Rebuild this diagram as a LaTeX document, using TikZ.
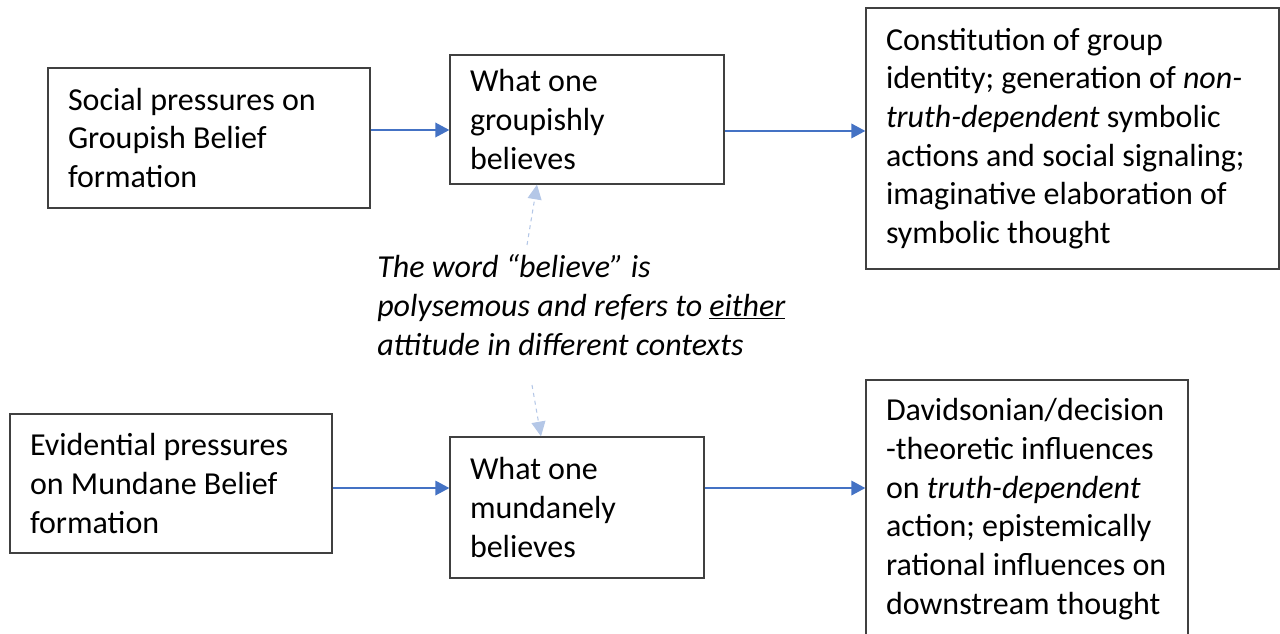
\documentclass[tikz,border=0pt]{standalone}
\usepackage{fontspec}
\setmainfont{Carlito}
\usetikzlibrary{arrows.meta}
\definecolor{flowblue}{HTML}{4472C4}
\definecolor{paleblue}{HTML}{B4C7E7}
\tikzset{
  box/.style={draw=black!75, line width=1pt, rectangle, inner xsep=15pt, inner ysep=2pt, align=flush left,
    font=\fontsize{24}{29}\selectfont},
  flow/.style={draw=flowblue, line width=1pt, -{Triangle[length=10.5pt,width=11pt]}},
  polylink/.style={draw=paleblue, line width=0.8pt, dashed, -{Triangle[length=11pt,width=10.5pt]}}
}
\begin{document}
\begin{tikzpicture}[x=0.75pt,y=0.75pt,yscale=-1,xscale=1]
    \useasboundingbox (0,0) rectangle (1280,634);
    %Shape: Rectangle [id:social] 
    \node [box, minimum width=241.5pt, minimum height=105pt, text width=211.5pt] (social) at (209,138)
      {Social pressures on\\Groupish Belief\\formation};
    %Shape: Rectangle [id:groupish] 
    \node [box, minimum width=205.5pt, minimum height=96.75pt, text width=175.5pt] (groupish) at (587,119.5)
      {What one\\groupishly\\believes};
    %Shape: Rectangle [id:constitution] 
    \node [box, minimum width=309.75pt, minimum height=195.75pt, text width=279.75pt] (constitution) at (1072.5,138.5)
      {Constitution of group\\identity; generation of \textit{non-}\\\textit{truth-dependent} symbolic\\actions and social signaling;\\imaginative elaboration of\\symbolic thought};
    %Shape: Rectangle [id:evidential] 
    \node [box, minimum width=241.5pt, minimum height=104.25pt, text width=211.5pt] (evidential) at (171,483.5)
      {Evidential pressures\\on Mundane Belief\\formation};
    %Shape: Rectangle [id:mundane] 
    \node [box, minimum width=190.5pt, minimum height=105.75pt, text width=160.5pt] (mundane) at (577,507.5)
      {What one\\mundanely\\believes};
    %Shape: Rectangle [id:davidsonian] 
    \node [box, minimum width=241.5pt, minimum height=193.5pt, text width=211.5pt] (davidsonian) at (1027,509)
      {Davidsonian/decision\\-theoretic influences\\on \textit{truth-dependent}\\action; epistemically\\rational influences on\\downstream thought};
    % Text Node
    \node [anchor=west, inner sep=0pt, align=left, font=\fontsize{24}{29}\selectfont\itshape] (polysemy) at (377,305)
      {The word “believe” is\\polysemous and refers to \underline{either}\\attitude in different contexts};
    %Straight Lines [id:flows] 
    \draw [flow] ([yshift=-6pt]social.east) -- ([yshift=-6pt]social.east -| groupish.west);
    \draw [flow] ([yshift=8.6pt]groupish.east) -- ([yshift=8.6pt]groupish.east -| constitution.west);
    \draw [flow] ([yshift=3.4pt]evidential.east) -- ([yshift=3.4pt]evidential.east -| mundane.west);
    \draw [flow] ([yshift=-14.6pt]mundane.east) -- ([yshift=-14.6pt]mundane.east -| davidsonian.west);
    %Dashed Lines [id:polylinks] 
    \coordinate (upstart) at (527,245);
    \coordinate (downstart) at (532,385);
    \draw [polylink] (upstart) -- ([xshift=-37.5pt]groupish.south);
    \draw [polylink] (downstart) -- ([xshift=-27pt]mundane.north);
\end{tikzpicture}
\end{document}
